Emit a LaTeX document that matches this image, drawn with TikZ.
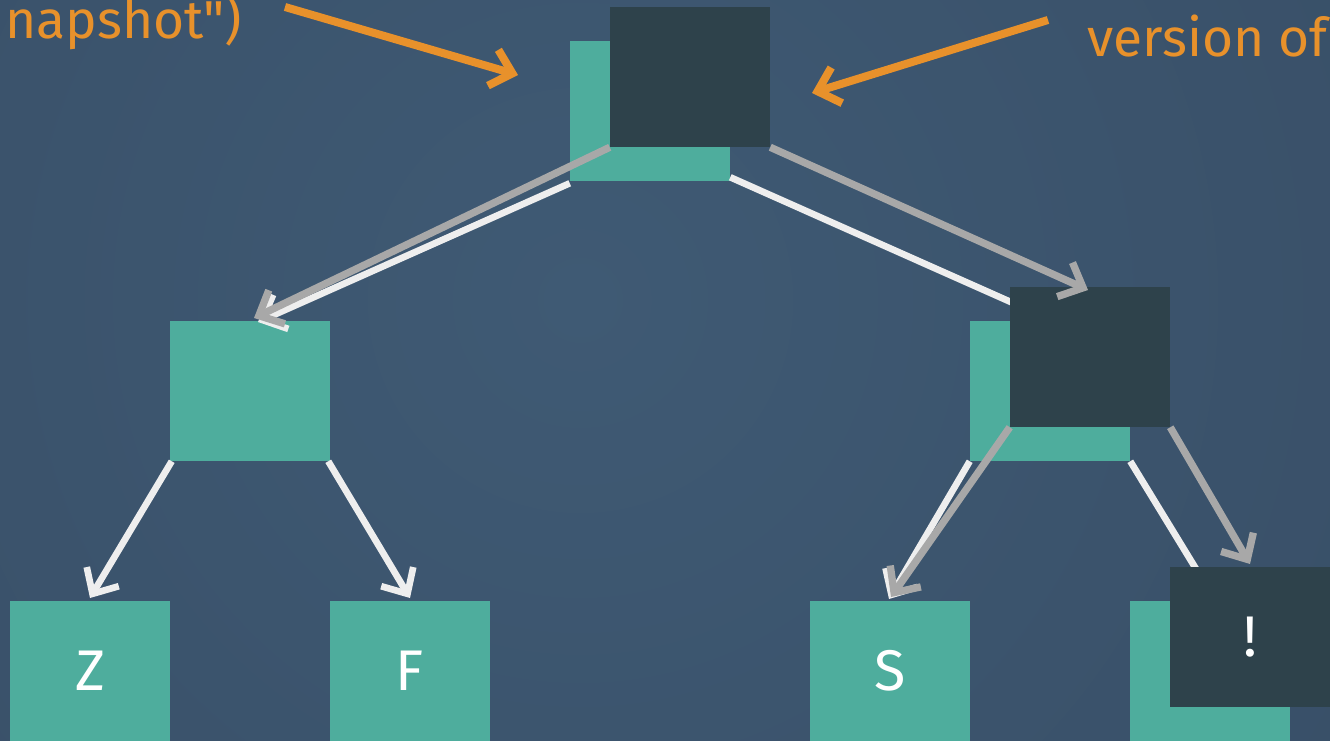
\documentclass[tikz,border=0pt]{standalone}
\usepackage{fontspec}
\setmainfont{Fira Sans}
\newfontfamily\labelfont{Fira Sans}
\usetikzlibrary{arrows.meta}
\definecolor{bgin}{HTML}{3F5A74}
\definecolor{bgout}{HTML}{33465D}
\definecolor{teal}{HTML}{4EAD9D}
\definecolor{darkbox}{HTML}{2E424B}
\definecolor{grayline}{HTML}{A8A8A8}
\definecolor{whiteline}{HTML}{EEEEEE}
\definecolor{orangec}{HTML}{E8912B}
\tikzset{
  tealbox/.style={fill=teal, draw=none, minimum width=120pt, minimum height=105pt, inner sep=0pt, text=white, font=\fontsize{43}{50}\selectfont},
  darkbox/.style={fill=darkbox, draw=none, minimum width=120pt, minimum height=105pt, inner sep=0pt, text=white, font=\fontsize{43}{50}\selectfont},
  barb/.style={-{Straight Barb[length=15pt,width=28pt]}},
  whitearrow/.style={draw=whiteline, line width=5pt, barb},
  whiteplain/.style={draw=whiteline, line width=5pt},
  grayarrow/.style={draw=grayline, line width=5.5pt, barb},
  orangearrow/.style={draw=orangec, line width=6pt, barb},
  label/.style={text=orangec, font=\labelfont\fontsize{40}{48}\selectfont, inner sep=0pt, anchor=base west}
}
\begin{document}
\begin{tikzpicture}[x=0.75pt,y=-0.75pt]
\useasboundingbox (0,0) rectangle (1330,741);
\clip (0,0) rectangle (1330,741);
\fill[bgout] (0,0) rectangle (1330,741);
\shade[inner color=bgin, outer color=bgout] (580,300) circle (1700);
% teal boxes
\node[tealbox] (rootT) at (650,111) {};
\node[tealbox] (lmT) at (250,391) {};
\node[tealbox] (rmT) at (1050,391) {};
\node[tealbox] (z) at (90,671) {Z};
\node[tealbox] (f) at (410,671) {F};
\node[tealbox] (s) at (890,671) {S};
\node[tealbox] (l4T) at (1210,671) {};
% coordinates
\coordinate (a1) at (258,322);
\coordinate (a2) at (1040,315);
\coordinate (a3) at (90,598);
\coordinate (a4) at (410,598);
\coordinate (a5) at (889,599);
\coordinate (a6) at (1215,600);
% white connectors
\draw[whitearrow] ([yshift=-1.5pt]rootT.south west) -- (a1);
\draw[whiteplain] ([yshift=3pt]rootT.south east) -- (a2);
\draw[whitearrow] ([xshift=1.5pt]lmT.south west) -- (a3);
\draw[whitearrow] ([xshift=-1.5pt]lmT.south east) -- (a4);
\draw[whitearrow] (rmT.south west) -- (a5);
\draw[whiteplain] (rmT.south east) -- (a6);
% dark boxes
\node[darkbox] (rootD) at (690,77) {};
\node[darkbox] (rmD) at (1090,357) {};
\node[darkbox] (l4D) at (1250,637) {!};
% gray connectors
\coordinate (g1) at (254,318);
\coordinate (g2) at (1088,290);
\coordinate (g3) at (891,597);
\coordinate (g4) at (1250,564);
\draw[grayarrow] (rootD.south west) -- (g1);
\draw[grayarrow] (rootD.south east) -- (g2);
\draw[grayarrow] (rmD.south west) -- (g3);
\draw[grayarrow] (rmD.south east) -- (g4);
% orange labels
\node[label] (snap) at (5,39) {napshot")};
\node[label] (vers) at (1087,57) {version of};
\coordinate (o1s) at (285,7);
\coordinate (o1e) at (518,75);
\coordinate (o2s) at (1048,20);
\coordinate (o2e) at (812,93);
\draw[orangearrow] (o1s) -- (o1e);
\draw[orangearrow] (o2s) -- (o2e);
\end{tikzpicture}
\end{document}
